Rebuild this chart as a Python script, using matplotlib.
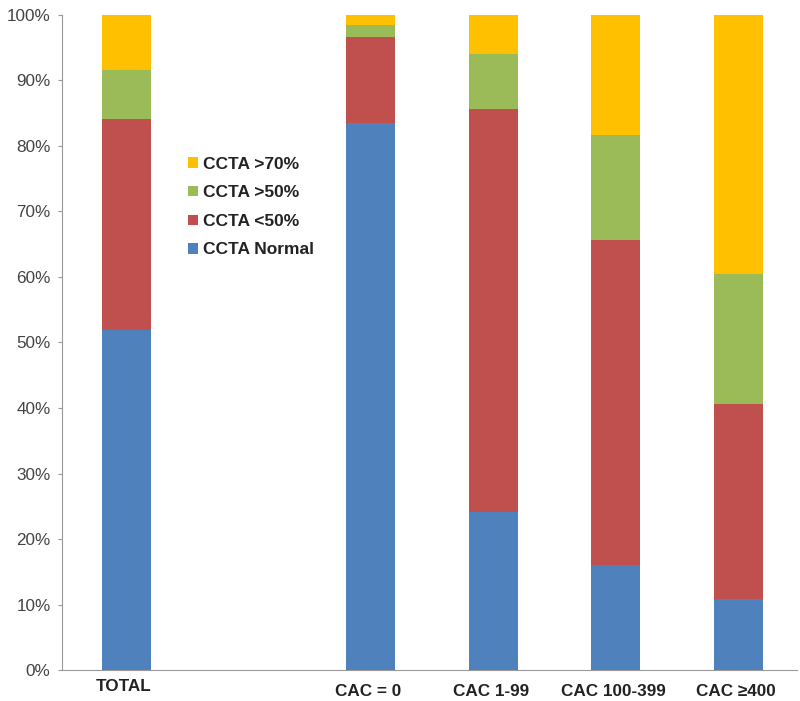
import matplotlib.pyplot as plt
import matplotlib.transforms as mtransforms
from matplotlib.ticker import PercentFormatter

plt.rcParams['font.family'] = ['Liberation Sans', 'DejaVu Sans']

categories = ['TOTAL', '', 'CAC = 0', 'CAC 1-99', 'CAC 100-399', 'CAC \u2265400']
normal = [51.9, 0, 83.5, 24.1, 16.0, 10.8]
lt50 = [32.2, 0, 13.1, 61.5, 49.6, 29.8]
gt50 = [7.5, 0, 1.9, 8.4, 16.1, 19.9]
gt70 = [8.4, 0, 1.5, 6.0, 18.3, 39.5]

series = [('CCTA Normal', normal, '#4F81BD'),
          ('CCTA <50%', lt50, '#C0504D'),
          ('CCTA >50%', gt50, '#9BBB59'),
          ('CCTA >70%', gt70, '#FFC000')]

fig, ax = plt.subplots(figsize=(8, 7.01), dpi=100)
fig.subplots_adjust(left=0.078, right=0.996, bottom=0.044, top=0.979)

x = list(range(len(categories)))
bottom = [0] * len(categories)
handles = []
for name, vals, col in series:
    b = ax.bar([xi + 0.02 for xi in x], vals, width=0.4, bottom=bottom, color=col, label=name)
    handles.append(b)
    bottom = [bo + v for bo, v in zip(bottom, vals)]

ax.set_xlim(-0.5, 5.5)
ax.set_ylim(0, 100)
ax.set_yticks(range(0, 101, 10))
ax.yaxis.set_major_formatter(PercentFormatter(decimals=0))
ax.set_xticks(x)
ax.set_xticklabels(categories, fontweight='bold', fontsize=12.3, color='#222222')
ax.tick_params(axis='x', length=0, pad=10)
ax.tick_params(axis='y', length=3, color='#999999', labelsize=12.3, labelcolor='#444444', pad=5.5)

# TOTAL label sits a little higher than the others
lab = ax.get_xticklabels()[0]
lab.set_transform(lab.get_transform() + mtransforms.ScaledTranslation(0, 5 / 100, fig.dpi_scale_trans))

for s in ['top', 'right']:
    ax.spines[s].set_visible(False)
for s in ['left', 'bottom']:
    ax.spines[s].set_color('#999999')

ax.legend(handles[::-1], [h.get_label() for h in handles[::-1]],
          loc='upper left', bbox_to_anchor=(0.15, 0.807), frameon=False,
          prop={'weight': 'bold', 'size': 12.5}, labelcolor='#222222',
          handlelength=0.55, handleheight=0.55, handletextpad=0.3, labelspacing=0.78)

plt.savefig('out.png')
